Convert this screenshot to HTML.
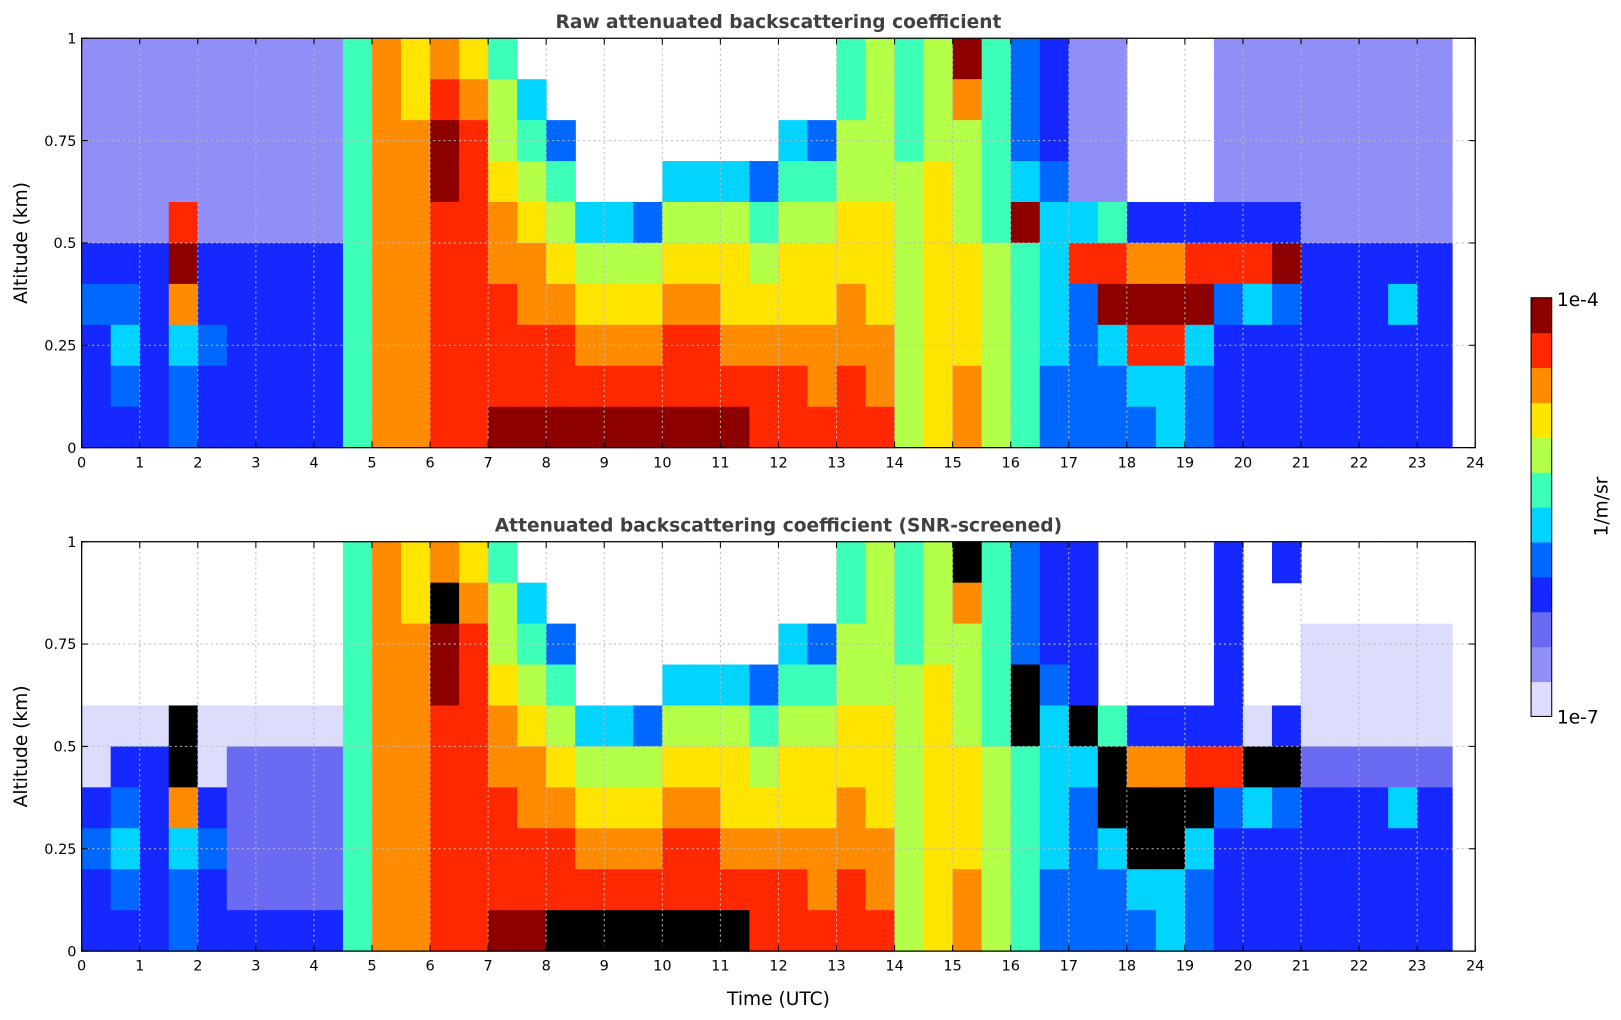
<!DOCTYPE html>
<html><head><meta charset="utf-8"><style>
html,body{margin:0;padding:0;background:#fff;overflow:hidden;width:1621px;height:1020px;}
svg{display:block;font-family:"DejaVu Sans","Liberation Sans",sans-serif;}
</style></head><body>
<svg id="chart" width="1621" height="1020" viewBox="0 0 1621 1020" xmlns="http://www.w3.org/2000/svg">
<g id="root" transform="scale(1.0338)">
<g id="p1"></g>
<g id="p2"></g>
<g id="cb"></g>
</g>
</svg>
<script>
// Data: time bin edges (hours), altitude bin edges (km), profiles per time bin (chars top->bottom, 0.1 km each)
const timeEdges = [0,0.5,1,1.5,2,2.5,3,3.5,4,4.5,5,5.5,6,6.5,7,7.5,8,8.5,9,9.5,10,10.5,11,11.5,12,12.5,13,13.5,14,14.5,15,15.5,16,16.5,17,17.5,18,18.5,19,19.5,20,20.5,21,21.5,22,22.5,23,23.5,23.6];
const altEdges = [1,0.9,0.8,0.7,0.6,0.5,0.4,0.3,0.2,0.1,0];
const xTicks = [0,1,2,3,4,5,6,7,8,9,10,11,12,13,14,15,16,17,18,19,20,21,22,23,24];
const yTicks = [0,0.25,0.5,0.75,1];
const yTickLabels = ["0","0.25","0.5","0.75","1"];
const profilesRaw = [
"nnnnn12111","nnnnn12321","nnnnn11111","nnnn897322","nnnnn11211","nnnnn11111","nnnnn11111","nnnnn11111","nnnnn11111",
"4444444444","7777777777","6677777777","7899888888","6788888888","4556778889",".345677889","..24567889",
"....356789","....356789","....256789","...3567889","...3567889","...3566789","...2456788","..34566788","..24566778",
"4455667788","5555666778","4445555555","5556666666","9755566677","4444455555","2223944444","1112333322",
"nnnn382222","nnnn489322","....179832","....179833","....189322","nnnn182111","nnnn183111","nnnn192111",
"nnnnn11111","nnnnn11111","nnnnn11111","nnnnn13111","nnnnn11111","nnnnn11111"];
const profilesSnr = [
"....001211","....012321","....011111","....kk7322","....001211","....0mmmm1","....0mmmm1","....0mmmm1","....0mmmm1",
"4444444444","7777777777","6677777777","7k99888888","6788888888","4556778889",".345677889","..2456788k",
"....35678k","....35678k","....25678k","...356788k","...356788k","...356678k","...2456788","..34566788","..24566778",
"4455667788","5555666778","4445555555","5556666666","k755566677","4444455555","222kk44444","1112333322",
"1111k32222","....4kk322","....17kk32","....17kk33","....18k322","1111182111","....0k3111","1...1k2111",
"..000m1111","..000m1111","..000m1111","..000m3111","..000m1111","..000m1111"];
const cbLabels = ["1e-4","1e-7"];

const palette = {'.':'#ffffff','n':'#8f8ff7','0':'#dcdcfc','m':'#6a6af2','1':'#1428ff','2':'#0068ff','3':'#00d4ff','4':'#3cffb8','5':'#b4ff48','6':'#ffe400','7':'#ff8c00','8':'#ff2800','9':'#8c0000','k':'#000000'};
const NS='http://www.w3.org/2000/svg';
function mk(tag,attrs,parent){const e=document.createElementNS(NS,tag);for(const k in attrs)e.setAttribute(k,attrs[k]);parent.appendChild(e);return e;}
const X0=79,X1=1427;
function xs(t){return X0+(X1-X0)*t/24;}

function panel(g,top,bottom,profiles,title){
  const ys=v=>bottom-(bottom-top)*v;
  for(let c=0;c<profiles.length;c++){
    for(let r=0;r<10;r++){
      const ch=profiles[c][r];
      if(ch==='.')continue;
      const x=xs(timeEdges[c]),x2=xs(timeEdges[c+1]);
      const y=ys(altEdges[r]),y2=ys(altEdges[r+1]);
      const rc=mk('rect',{x:x,y:y,width:x2-x+0.6,height:y2-y+0.6,fill:palette[ch]},g);
      
      
    }
  }
  xTicks.forEach(t=>{
    const l=mk('line',{x1:xs(t),x2:xs(t),y1:top,y2:bottom,stroke:'#bbb','stroke-dasharray':'2,3','stroke-width':1},g);
    
    mk('line',{x1:xs(t),x2:xs(t),y1:bottom,y2:bottom-6,stroke:'#000'},g);
    mk('line',{x1:xs(t),x2:xs(t),y1:top,y2:top+6,stroke:'#000'},g);
    const tx=mk('text',{x:xs(t),y:bottom+19,'text-anchor':'middle','font-size':14},g);tx.textContent=t;
    
  });
  yTicks.forEach((v,i)=>{
    const l=mk('line',{x1:X0,x2:X1,y1:ys(v),y2:ys(v),stroke:'#bbb','stroke-dasharray':'2,3'},g);
    
    mk('line',{x1:X0,x2:X0+6,y1:ys(v),y2:ys(v),stroke:'#000'},g);
    mk('line',{x1:X1,x2:X1-6,y1:ys(v),y2:ys(v),stroke:'#000'},g);
    const tx=mk('text',{x:X0-5,y:ys(v)+5,'text-anchor':'end','font-size':14},g);tx.textContent=yTickLabels[i];
    
  });
  const fr=mk('rect',{x:X0,y:top,width:X1-X0,height:bottom-top,fill:'none',stroke:'#000','stroke-width':1.2},g);
  
  const ti=mk('text',{x:753,y:top-10,'text-anchor':'middle','font-size':18,'font-weight':'bold',fill:'#404040'},g);ti.textContent=title;
  
  const yl=mk('text',{x:0,y:0,transform:`translate(26,${(top+bottom)/2}) rotate(-90)`,'text-anchor':'middle','font-size':18},g);yl.textContent='Altitude (km)';
  
}
panel(document.getElementById('p1'),37,433,profilesRaw,'Raw attenuated backscattering coefficient');
panel(document.getElementById('p2'),524,920,profilesSnr,'Attenuated backscattering coefficient (SNR-screened)');
const root=document.getElementById('root');
const xl=mk('text',{x:753,y:972,'text-anchor':'middle','font-size':18},root);xl.textContent='Time (UTC)';


// colorbar
const cb=document.getElementById('cb');
const cbLevels=['0','n','m','1','2','3','4','5','6','7','8','9'];
const cbTop=288,cbBot=693,cbH=(cbBot-cbTop)/cbLevels.length;
cbLevels.forEach((ch,i)=>{
  const r=mk('rect',{x:1481,y:cbBot-(i+1)*cbH,width:20,height:cbH+0.5,fill:palette[ch]},cb);
  
});
mk('rect',{x:1481,y:cbTop,width:20,height:cbBot-cbTop,fill:'none',stroke:'#000'},cb);
const l1=mk('text',{x:1506,y:cbTop+8,'font-size':18},cb);l1.textContent=cbLabels[0];

const l2=mk('text',{x:1506,y:cbBot+7,'font-size':18},cb);l2.textContent=cbLabels[1];

const ut=mk('text',{x:0,y:0,transform:'translate(1555,490) rotate(-90)','text-anchor':'middle','font-size':18},cb);ut.textContent='1/m/sr';

</script>
</body></html>
